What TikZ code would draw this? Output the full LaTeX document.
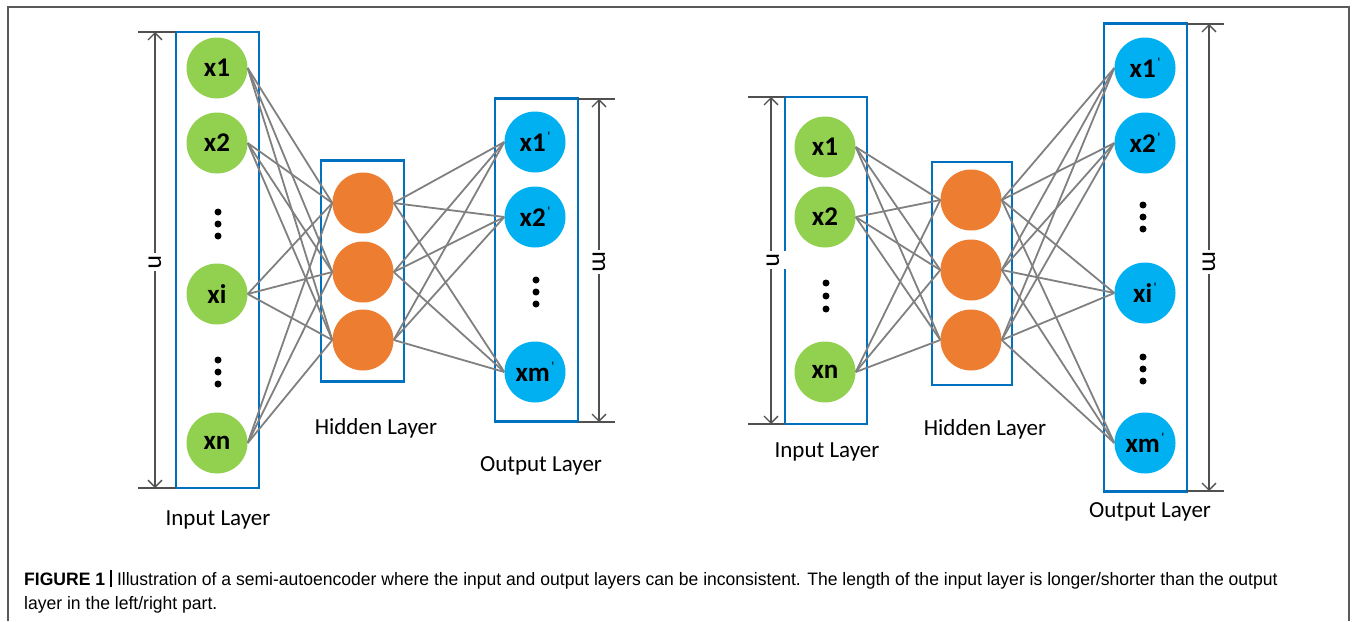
\documentclass[tikz,border=0pt]{standalone}
\usepackage{fontspec}
\setmainfont{Carlito}
\newfontfamily\capfont{Liberation Sans}
\usetikzlibrary{arrows.meta}
\definecolor{boxblue}{RGB}{0,112,192}
\definecolor{ingreen}{RGB}{146,208,80}
\definecolor{hidorange}{RGB}{237,125,49}
\definecolor{outblue}{RGB}{0,176,240}
\definecolor{linkgray}{RGB}{128,128,128}
\definecolor{dimgray}{RGB}{80,80,80}
\definecolor{framegray}{RGB}{90,90,90}
\newcommand{\pr}{\raisebox{10pt}{\fontsize{14}{14}\selectfont\mdseries\kern1.5pt\textquotesingle}}
\begin{document}
\begin{tikzpicture}[x=1pt,y=-1pt,
  neuron/.style={circle, minimum size=61pt, inner sep=0pt, font=\fontsize{27}{27}\selectfont\bfseries},
  inn/.style={neuron, fill=ingreen},
  hid/.style={neuron, fill=hidorange},
  outn/.style={neuron, fill=outblue},
  layerbox/.style={draw=boxblue, line width=2.6pt, inner sep=0pt},
  link/.style={draw=linkgray, line width=1.8pt},
  dimline/.style={draw=dimgray, line width=1.3pt, {Straight Barb[length=7pt,width=14pt]}-{Straight Barb[length=7pt,width=14pt]}},
  tick/.style={draw=dimgray, line width=1.3pt},
  dimlabel/.style={fill=white, rotate=-90, inner sep=2pt, font=\fontsize{26}{26}\selectfont},
  dotn/.style={circle, fill=black, minimum size=7pt, inner sep=0pt},
  layerlabel/.style={font=\fontsize{23}{23}\selectfont}
]
\useasboundingbox (0,0) rectangle (1356,621);
% outer frame
\draw[framegray, line width=1.2pt] (8,621) -- (8,7) -- (1349,7) -- (1349,621);

% ================= LEFT =================
\node[layerbox, minimum width=83pt, minimum height=456pt] (Lin) at (217.5,260) {};
\node[layerbox, minimum width=83pt, minimum height=221pt] (Lhid) at (362.5,271) {};
\node[layerbox, minimum width=83pt, minimum height=323pt] (Lout) at (536.5,260) {};

\node[inn] (La1) at (217,68) {x1};
\node[inn] (La2) at (217,143) {x2};
\node[inn] (La3) at (217,294) {xi};
\node[inn] (La4) at (217,443) {xn};
\foreach \y [count=\i] in {212,224,236} \node[dotn] (Ld1\i) at (218,\y) {};
\foreach \y [count=\i] in {360,372,384} \node[dotn] (Ld2\i) at (218,\y) {};

\node[hid] (Lh1) at (363,203) {};
\node[hid] (Lh2) at (363,272) {};
\node[hid] (Lh3) at (363,340) {};

\node[outn] (Lo1) at (535,142) {x1\pr};
\node[outn] (Lo2) at (535,217) {x2\pr};
\node[outn] (Lo3) at (535,372) {xm\pr};
\foreach \y [count=\i] in {280,292,304} \node[dotn] (Ld3\i) at (536,\y) {};

\foreach \a in {La1,La2,La3,La4}
  \foreach \h in {Lh1,Lh2,Lh3}
    \draw[link] (\a.east) -- (\h.west);
\foreach \h in {Lh1,Lh2,Lh3}
  \foreach \o in {Lo1,Lo2,Lo3}
    \draw[link] (\h.east) -- (\o.west);

% dimension n (left)
\coordinate (Lnt0) at (138,32); \coordinate (Lnt1) at (176,32);
\coordinate (Lnb0) at (138,488); \coordinate (Lnb1) at (176,488);
\draw[tick] (Lnt0) -- (Lnt1);
\draw[tick] (Lnb0) -- (Lnb1);
\coordinate (Lna) at (155,32); \coordinate (Lnb) at (155,488);
\draw[dimline] (Lna) -- (Lnb);
\node[dimlabel] (Lnl) at (155,262) {n};

% dimension m (left)
\coordinate (Lmt0) at (578,99); \coordinate (Lmt1) at (615,99);
\coordinate (Lmb0) at (578,422); \coordinate (Lmb1) at (615,422);
\draw[tick] (Lmt0) -- (Lmt1);
\draw[tick] (Lmb0) -- (Lmb1);
\coordinate (Lma) at (599,99); \coordinate (Lmb) at (599,422);
\draw[dimline] (Lma) -- (Lmb);
\node[dimlabel] (Lml) at (599,262) {m};

\node[layerlabel] (LinL) at (218,520) {Input Layer};
\node[layerlabel] (LhidL) at (376,428) {Hidden Layer};
\node[layerlabel] (LoutL) at (541,466) {Output Layer};

% ================= RIGHT =================
\node[layerbox, minimum width=82pt, minimum height=327pt] (Rin) at (826,260.5) {};
\node[layerbox, minimum width=80pt, minimum height=223pt] (Rhid) at (972,273.5) {};
\node[layerbox, minimum width=83pt, minimum height=468pt] (Rout) at (1145.5,257.5) {};

\node[inn] (Ra1) at (825,147) {x1};
\node[inn] (Ra2) at (825,217) {x2};
\node[inn] (Ra3) at (825,372) {xn};
\foreach \y [count=\i] in {283,296,309} \node[dotn] (Rd1\i) at (826,\y) {};

\node[hid] (Rh1) at (971,200) {};
\node[hid] (Rh2) at (971,270) {};
\node[hid] (Rh3) at (971,340) {};

\node[outn] (Ro1) at (1145,68) {x1\pr};
\node[outn] (Ro2) at (1145,143) {x2\pr};
\node[outn] (Ro3) at (1145,293) {xi\pr};
\node[outn] (Ro4) at (1145,443) {xm\pr};
\foreach \y [count=\i] in {205,217,229} \node[dotn] (Rd2\i) at (1143,\y) {};
\foreach \y [count=\i] in {357,369,381} \node[dotn] (Rd3\i) at (1143,\y) {};

\foreach \a in {Ra1,Ra2,Ra3}
  \foreach \h in {Rh1,Rh2,Rh3}
    \draw[link] (\a.east) -- (\h.west);
\foreach \h in {Rh1,Rh2,Rh3}
  \foreach \o in {Ro1,Ro2,Ro3,Ro4}
    \draw[link] (\h.east) -- (\o.west);

% dimension n (right)
\coordinate (Rnt0) at (748,97); \coordinate (Rnt1) at (785,97);
\coordinate (Rnb0) at (748,424); \coordinate (Rnb1) at (785,424);
\draw[tick] (Rnt0) -- (Rnt1);
\draw[tick] (Rnb0) -- (Rnb1);
\coordinate (Rna) at (771,97); \coordinate (Rnb) at (771,424);
\draw[dimline] (Rna) -- (Rnb);
\node[dimlabel, inner ysep=10pt] (Rnl) at (773,260) {n};

% dimension m (right)
\coordinate (Rmt0) at (1187,24); \coordinate (Rmt1) at (1224,24);
\coordinate (Rmb0) at (1187,491); \coordinate (Rmb1) at (1224,491);
\draw[tick] (Rmt0) -- (Rmt1);
\draw[tick] (Rmb0) -- (Rmb1);
\coordinate (Rma) at (1209,24); \coordinate (Rmb) at (1209,491);
\draw[dimline] (Rma) -- (Rmb);
\node[dimlabel] (Rml) at (1209,262) {m};

\node[layerlabel] (RinL) at (827,452) {Input Layer};
\node[layerlabel] (RhidL) at (985,429) {Hidden Layer};
\node[layerlabel] (RoutL) at (1150,512) {Output Layer};

% ================= CAPTION =================
\node[anchor=base west, inner sep=0pt, font=\capfont\fontsize{18}{18}\selectfont] (cap1) at (24,585)
  {\scalebox{0.975}[1]{\textbf{FIGURE 1} \rule[-2pt]{2.2pt}{17pt} Illustration of a semi-autoencoder where the input and output layers can be inconsistent. The length of the input layer is longer/shorter than the output}};
\node[anchor=base west, inner sep=0pt, font=\capfont\fontsize{18}{18}\selectfont] (cap2) at (24,609)
  {\scalebox{0.975}[1]{layer in the left/right part.}};
\end{tikzpicture}
\end{document}
